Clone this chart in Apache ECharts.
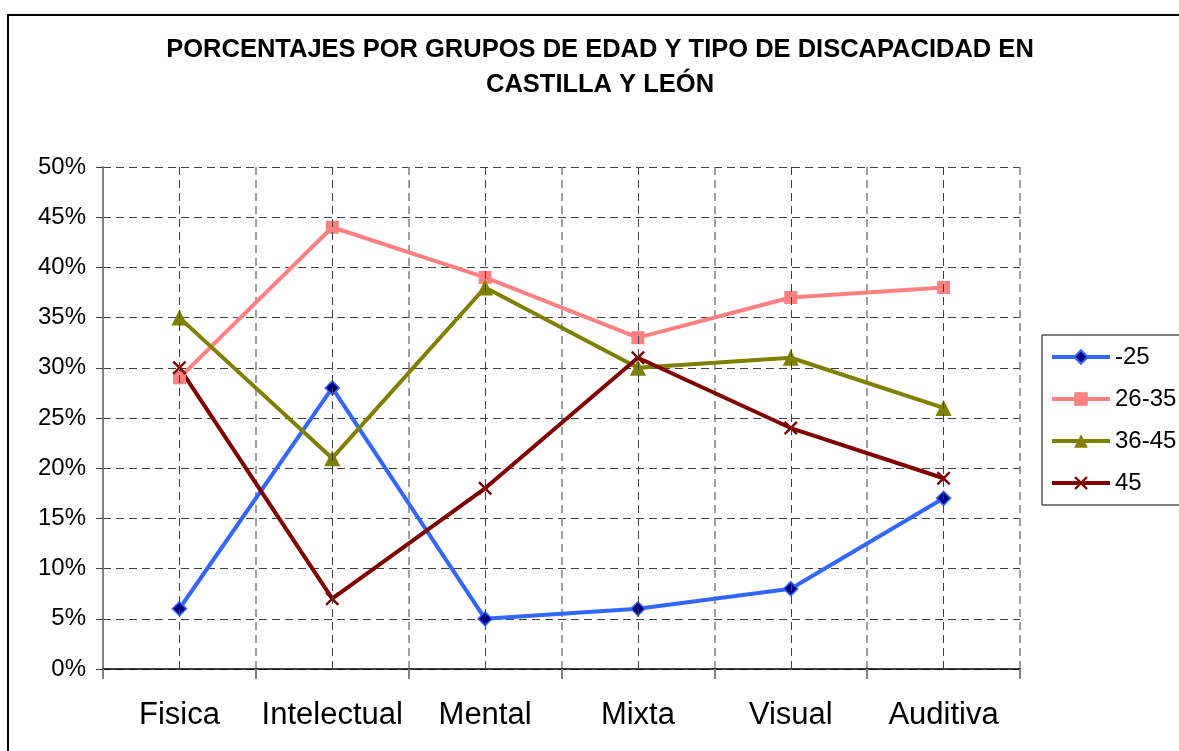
<!DOCTYPE html>
<html>
<head>
<meta charset="utf-8">
<script src="https://cdn.jsdelivr.net/npm/echarts@6/dist/echarts.min.js"></script>
<style>html,body{margin:0;padding:0;background:#fff}#c{width:1179px;height:751px}</style>
</head>
<body>
<div id="c"></div>
<script>
const categories = ['Fisica', 'Intelectual', 'Mental', 'Mixta', 'Visual', 'Auditiva'];
const s_25 = [6, 28, 5, 6, 8, 17];
const s_26_35 = [29, 44, 39, 33, 37, 38];
const s_36_45 = [35, 21, 38, 30, 31, 26];
const s_45 = [30, 7, 18, 31, 24, 19];
const seriesNames = ['-25', '26-35', '36-45', '45'];
const titleLines = ['PORCENTAJES POR GRUPOS DE EDAD Y TIPO DE DISCAPACIDAD EN', 'CASTILLA Y LEÓN'];

const FONT = '"Liberation Sans", Arial, sans-serif';
const xPath = 'path://M0,1.2 L1.2,0 L5,3.8 L8.8,0 L10,1.2 L6.2,5 L10,8.8 L8.8,10 L5,6.2 L1.2,10 L0,8.8 L3.8,5 Z';

const chart = echarts.init(document.getElementById('c'));
chart.setOption({
  animation: false,
  backgroundColor: '#fff',
  textStyle: { fontFamily: FONT },
  graphic: [
    { type: 'rect', shape: { x: 8, y: 15, width: 1300, height: 900 }, style: { fill: 'none', stroke: '#000', lineWidth: 2 }, silent: true },
    { type: 'text', x: 600, y: 50, style: { text: titleLines[0], font: 'bold 25.5px ' + FONT, fill: '#000', align: 'center', verticalAlign: 'middle' } },
    { type: 'text', x: 600, y: 85, style: { text: titleLines[1], font: 'bold 25.5px ' + FONT, fill: '#000', align: 'center', verticalAlign: 'middle' } }
  ],
  grid: { left: 103, right: 159, top: 167, bottom: 82, containLabel: false },
  legend: {
    data: seriesNames,
    orient: 'vertical',
    left: 1042,
    top: 335,
    itemWidth: 58,
    itemHeight: 17,
    itemGap: 18,
    padding: [10, 10, 10, 8],
    borderColor: '#000',
    borderWidth: 1,
    lineStyle: { width: 4 },
    textStyle: { fontSize: 24, color: '#000', fontFamily: FONT }
  },
  xAxis: {
    type: 'category',
    data: categories,
    boundaryGap: true,
    axisLine: { show: true, lineStyle: { color: '#000', width: 1.5 } },
    axisTick: { show: true, length: 10, interval: 0, lineStyle: { color: '#808080', width: 2 } },
    axisLabel: { fontSize: 31, color: '#000', margin: 31, interval: 0, fontFamily: FONT },
    splitLine: { show: true, interval: 0, lineStyle: { type: [8, 5], color: '#808080', width: 1.5 } }
  },
  yAxis: {
    type: 'value',
    min: 0,
    max: 50,
    interval: 5,
    axisLine: { show: true, lineStyle: { color: '#808080', width: 2 } },
    axisTick: { show: true, length: 7, lineStyle: { color: '#404040', width: 1 } },
    axisLabel: { fontSize: 24, color: '#000', margin: 17, formatter: v => v + '%', fontFamily: FONT },
    splitLine: { show: true, lineStyle: { type: [8, 5], color: '#404040', width: 1 } }
  },
  series: [
    {
      name: 'centers', type: 'line', data: [], z: 1, silent: true,
      markLine: {
        silent: true, symbol: 'none', label: { show: false },
        lineStyle: { type: [8, 5], color: '#404040', width: 1 },
        data: categories.map(c => ({ xAxis: c }))
      }
    },
    {
      name: seriesNames[0], type: 'line', data: s_25,
      symbol: 'diamond', symbolSize: 14,
      lineStyle: { color: '#3366FF', width: 4 },
      itemStyle: { color: '#000080', borderColor: '#3366FF', borderWidth: 1.5 }
    },
    {
      name: seriesNames[1], type: 'line', data: s_26_35,
      symbol: 'rect', symbolSize: 13,
      lineStyle: { color: '#FF8080', width: 4 },
      itemStyle: { color: '#FF8080' }
    },
    {
      name: seriesNames[2], type: 'line', data: s_36_45,
      symbol: 'triangle', symbolSize: 16,
      lineStyle: { color: '#808000', width: 4 },
      itemStyle: { color: '#808000' }
    },
    {
      name: seriesNames[3], type: 'line', data: s_45,
      symbol: xPath, symbolSize: 14,
      lineStyle: { color: '#800000', width: 4 },
      itemStyle: { color: '#800000' }
    }
  ]
});
</script>
</body>
</html>
